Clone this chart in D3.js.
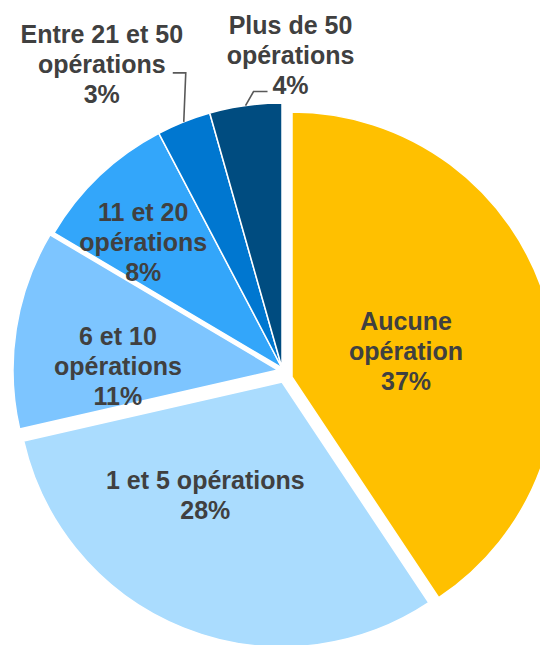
<!DOCTYPE html>
<html>
<head>
<meta charset="utf-8">
<script src="https://cdn.jsdelivr.net/npm/d3@7"></script>
<style>
  body { margin: 0; background: #fff; }
  svg { display: block; }
</style>
</head>
<body>
<div id="chart"></div>
<script>
// data
const categories = ["Aucune opération", "1 et 5 opérations", "6 et 10 opérations",
                    "11 et 20 opérations", "Entre 21 et 50 opérations", "Plus de 50 opérations"];
const labelLines = [["Aucune", "opération"], ["1 et 5 opérations"], ["6 et 10", "opérations"],
                    ["11 et 20", "opérations"], ["Entre 21 et 50", "opérations"], ["Plus de 50", "opérations"]];
const values = [37, 28, 11, 8, 3, 4]; // %

// set up
const width = 540;
const height = 645;
const cx = 281, cy = 370, radius = 265;

const colors = ["#FFC000", "#AADCFE", "#7DC5FF", "#33A6FA", "#0077D0", "#004C80"];
// how far each slice is pulled out of the pie (x, y)
const explode = [[11, 7], [1, 12], [-3, 0], [1, -2], [1, -2], [1, -2]];
// label distance from slice tip + small nudges, leader lines for the two small slices
const labelPlace = [
  { r: 116, dx: 3, dy: 8 },
  { r: 134, dx: -27, dy: -11 },
  { r: 159, dx: -3, dy: 21 },
  { r: 187, dx: -10, dy: 10 },
  { r: radius, dx: -82, dy: -58, leader: { elbowDx: 2, lineDy: 9, endDx: 71 } },
  { r: radius, dx: 45, dy: -51, leader: { elbowDx: 8, lineDy: 37, endDx: -23 } }
];

const svg = d3.select('#chart')
  .append('svg')
  .attr('width', width)
  .attr('height', height);

const pie = d3.pie().sort(null).value(d => d.value);
const rows = categories.map((c, i) => ({ name: c, lines: labelLines[i], value: values[i] }));
const arcs = pie(rows);

const arc = d3.arc().innerRadius(0).outerRadius(radius);

const slices = svg.append('g')
  .selectAll('g')
  .data(arcs)
  .join('g')
    .attr('transform', (d, i) => `translate(${cx + explode[i][0]},${cy + explode[i][1]})`);

slices.append('path')
  .attr('d', arc)
  .attr('fill', (d, i) => colors[i])
  .attr('stroke', '#fff')
  .attr('stroke-width', 1.5)
  .attr('stroke-linejoin', 'round');

// labels
const lineH = 30;
slices.each(function (d, i) {
  const g = d3.select(this);
  const p = labelPlace[i];
  const [px, py] = d3.arc().innerRadius(p.r).outerRadius(p.r).centroid(d);
  const lx = px + p.dx, ly = py + p.dy;
  const lines = d.data.lines.concat([d.data.value + '%']);
  const n = lines.length;

  if (p.leader) {
    const lyLine = ly + p.leader.lineDy;
    g.append('polyline')
      .attr('points', [[px, py], [px + p.leader.elbowDx, lyLine], [lx + p.leader.endDx, lyLine]].join(' '))
      .attr('fill', 'none')
      .attr('stroke', '#595959')
      .attr('stroke-width', 1.6);
  }

  g.append('text')
    .attr('text-anchor', 'middle')
    .attr('font-family', '"Liberation Sans", Arial, sans-serif')
    .attr('font-weight', 'bold')
    .attr('font-size', '25px')
    .attr('fill', '#404040')
    .selectAll('tspan')
    .data(lines)
    .join('tspan')
      .attr('x', lx)
      .attr('y', (t, k) => ly + (k - (n - 1) / 2) * lineH + 9)
      .text(t => t);
});
</script>
</body>
</html>
